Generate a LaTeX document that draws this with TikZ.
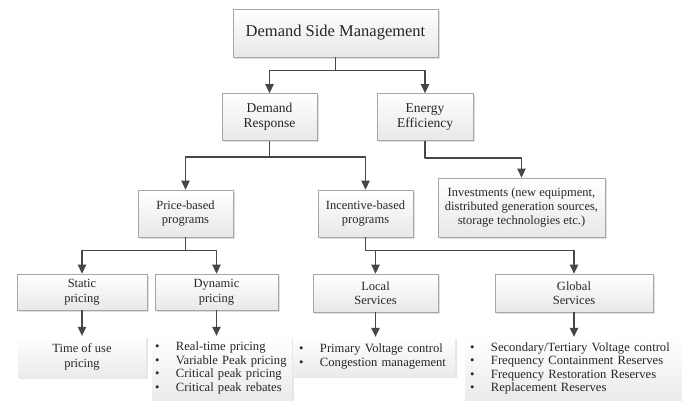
\documentclass[tikz,border=0pt]{standalone}
\usepackage{fontspec}
\setmainfont{Liberation Serif}
\usetikzlibrary{arrows.meta, shadows, positioning, calc}

\newcommand{\bulitem}[1]{\makebox[21pt][l]{\textbullet}#1}

\begin{document}
\begin{tikzpicture}[x=1pt, y=-1pt,
    font=\fontsize{12.5}{14.5}\selectfont,
    box/.style={draw=black!35, line width=0.8pt, top color=white, bottom color=black!9,
      text=black!85, align=center, inner sep=0pt,
      drop shadow={shadow xshift=1.5pt, shadow yshift=-1.5pt, opacity=0.25}},
    listbox/.style={top color=white, bottom color=black!8, text=black!85, inner ysep=0pt,
      drop shadow={shadow xshift=1.5pt, shadow yshift=-1.5pt, opacity=0.2},
      font=\fontsize{12.6}{13.4}\selectfont},
    link/.style={draw=black!72, line width=1.2pt, line join=round, -{Triangle[width=8.5pt,length=9pt]}}]
  \useasboundingbox (0,0) rectangle (682,400);

  \node[box, minimum width=205, minimum height=48, font=\fontsize{16.5}{18}\selectfont] (dsm) at (335.5,33) {Demand Side Management};

  \node[box, minimum width=95, minimum height=47, font=\fontsize{13.5}{15}\selectfont] (dr) at (269.5,117) {Demand\\Response};
  \node[box, minimum width=96, minimum height=47, font=\fontsize{13.5}{15}\selectfont] (ee) at (425,117) {Energy\\Efficiency};

  \node[box, minimum width=95, minimum height=47] (price) at (185.5,213.5) {Price-based\\programs};
  \node[box, minimum width=95, minimum height=47] (incent) at (365.5,213.5) {Incentive-based\\programs};
  \node[box, minimum width=167, minimum height=59, font=\fontsize{12.5}{14}\selectfont] (invest) at (521.5,207.5) {Investments (new equipment,\\distributed generation sources,\\storage technologies etc.)};

  \node[box, minimum width=130, minimum height=36] (static) at (82,292) {Static\\pricing};
  \node[box, minimum width=123, minimum height=36] (dynamic) at (216.5,292) {Dynamic\\pricing};
  \node[box, minimum width=125, minimum height=38] (local) at (375.5,293) {Local\\Services};
  \node[box, minimum width=158, minimum height=38] (global) at (574,293) {Global\\Services};

  \node[listbox, minimum width=128, minimum height=41, align=center, font=\fontsize{12.5}{15}\selectfont] (tou) at (82,356.5) {Time of use\\pricing};
  \node[listbox, minimum height=64, inner xsep=3pt, text width=134pt, align=left] (dynlist) at (222,368) {\bulitem{Real-time pricing}\\\bulitem{Variable Peak pricing}\\\bulitem{Critical peak pricing}\\\bulitem{Critical peak rebates}};
  \node[listbox, minimum height=39, inner xsep=6pt, text width=150pt, align=left] (loclist) at (374,356.5) {\bulitem{Primary Voltage control}\\\bulitem{Congestion management}};
  \node[listbox, minimum height=63, inner xsep=5pt, text width=207pt, align=left] (glolist) at (573.5,368.5) {\bulitem{Secondary/Tertiary Voltage control}\\\bulitem{Frequency Containment Reserves}\\\bulitem{Frequency Restoration Reserves}\\\bulitem{Replacement Reserves}};

  \draw[link] (dsm.south) -- ++(0,13) -| (dr.north);
  \draw[link] (dsm.south) -- ++(0,13) -| (ee.north);
  \draw[link] (dr.south) -- ++(0,16) -| (price.north);
  \draw[link] (dr.south) -- ++(0,16) -| (incent.north);
  \draw[link] (ee.south) -- ++(0,17) -| (invest.north);
  \draw[link] (price.south) -- ++(0,13) -| (static.north);
  \draw[link] (price.south) -- ++(0,13) -| (dynamic.north);
  \draw[link] (incent.south) -- ++(0,13) -| (local.north);
  \draw[link] (incent.south) -- ++(0,13) -| (global.north);
  \draw[link] (static.south) -- (tou.north);
  \draw[link] (dynamic.south) -- (dynamic.south |- dynlist.north);
  \draw[link] (local.south) -- (local.south |- loclist.north);
  \draw[link] (global.south) -- (global.south |- glolist.north);
\end{tikzpicture}
\end{document}
